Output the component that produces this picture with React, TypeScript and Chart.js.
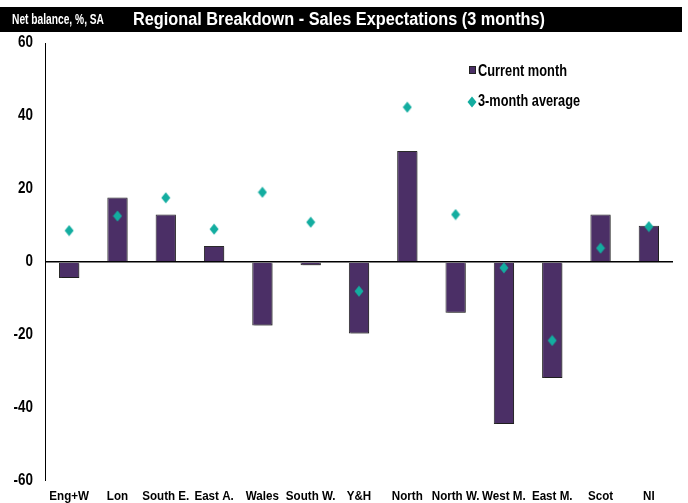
import React, { useEffect, useRef } from "react";
import { Chart, registerables } from "chart.js";

Chart.register(...registerables);

const categories = ["Eng+W", "Lon", "South E.", "East A.", "Wales", "South W.", "Y&H", "North", "North W.", "West M.", "East M.", "Scot", "NI"];
const currentMonth = [-4.4, 17.7, 13.0, 4.4, -17.4, -0.9, -19.6, 30.4, -13.9, -44.4, -31.8, 13.0, 9.9];
const threeMonthAvg = [8.6, 12.6, 17.6, 9.0, 19.1, 10.9, -8.0, 42.4, 13.0, -1.6, -21.5, 3.8, 9.7];
const yTicks = [-60, -40, -20, 0, 20, 40, 60];
const headerLeft = "Net balance, %, SA";
const headerTitle = "Regional Breakdown - Sales Expectations (3 months)";
const legendLabels = ["Current month", "3-month average"];

const FONT = '"Liberation Sans", Arial, sans-serif';
const BAR_COLOR = "#4B2F66";
const DIAMOND_COLOR = "#13ADA0";

function narrowText(ctx: any, text: string, x: number, y: number, size: number, sx: number, align: string, color: string) {
  ctx.save();
  ctx.translate(x, y);
  ctx.scale(sx, 1);
  ctx.font = `bold ${size}px ${FONT}`;
  ctx.fillStyle = color;
  ctx.textAlign = align;
  ctx.textBaseline = "middle";
  ctx.fillText(text, 0, 0);
  ctx.restore();
}

function fitText(ctx: any, text: string, x: number, y: number, size: number, width: number, color: string) {
  ctx.save();
  ctx.font = `bold ${size}px ${FONT}`;
  const w = ctx.measureText(text).width;
  ctx.restore();
  narrowText(ctx, text, x, y, size, width / w, "left", color);
}

function makeDiamond(): HTMLCanvasElement {
  const c = document.createElement("canvas");
  c.width = 10;
  c.height = 12;
  const g = c.getContext("2d")!;
  g.fillStyle = DIAMOND_COLOR;
  g.beginPath();
  g.moveTo(5, 0.5);
  g.lineTo(9.5, 6);
  g.lineTo(5, 11.5);
  g.lineTo(0.5, 6);
  g.closePath();
  g.fill();
  return c;
}

export default function App() {
  const ref = useRef<HTMLCanvasElement | null>(null);

  useEffect(() => {
    if (!ref.current) return;
    const diamond = makeDiamond();
    const decor = {
      id: "decor",
      beforeDraw(chart: any) {
        const ctx = chart.ctx;
        ctx.save();
        ctx.fillStyle = "#fff";
        ctx.fillRect(0, 0, chart.width, chart.height);
        ctx.fillStyle = "#000";
        ctx.fillRect(0, 7, 682, 25);
        ctx.restore();
        fitText(ctx, headerLeft, 12, 20, 15, 92, "#fff");
        fitText(ctx, headerTitle, 133, 20, 18, 412, "#fff");
      },
      beforeDatasetDraw(chart: any, args: any) {
        if (args.index === 1) {
          const ctx = chart.ctx;
          ctx.save();
          ctx.shadowColor = "rgba(0,0,0,0.28)";
          ctx.shadowOffsetX = 2;
          ctx.shadowOffsetY = 1;
          ctx.shadowBlur = 0;
        }
      },
      afterDatasetDraw(chart: any, args: any) {
        if (args.index === 1) chart.ctx.restore();
      },
      afterDraw(chart: any) {
        const ctx = chart.ctx;
        const xs = chart.scales.x;
        const ys = chart.scales.y;
        categories.forEach((c, i) => {
          narrowText(ctx, c, xs.getPixelForTick(i), 496, 13.5, 0.86, "center", "#000");
        });
        yTicks.forEach((v) => {
          narrowText(ctx, String(v), 33, ys.getPixelForValue(v), 16, 0.84, "right", "#000");
        });
        ctx.save();
        ctx.fillStyle = BAR_COLOR;
        ctx.strokeStyle = "#222";
        ctx.lineWidth = 1;
        ctx.fillRect(469, 66, 7, 8);
        ctx.strokeRect(469.5, 66.5, 6, 7);
        ctx.drawImage(diamond, 467, 96);
        ctx.restore();
        fitText(ctx, legendLabels[0], 478, 72, 16, 89, "#000");
        fitText(ctx, legendLabels[1], 478, 102, 16, 102, "#000");
      },
    };

    const chart = new Chart(ref.current, {
      type: "bar",
      data: {
        labels: categories,
        datasets: [
          {
            type: "line",
            label: legendLabels[1],
            data: threeMonthAvg,
            showLine: false,
            pointStyle: diamond,
            pointRadius: 5,
            order: 0,
          } as any,
          {
            type: "bar",
            label: legendLabels[0],
            data: currentMonth,
            backgroundColor: BAR_COLOR,
            borderColor: "#2a2a2a",
            borderWidth: 1,
            categoryPercentage: 1,
            barPercentage: 0.42,
            order: 1,
          },
        ],
      },
      options: {
        responsive: false,
        animation: false,
        devicePixelRatio: 1,
        layout: { padding: { left: 0, right: 15, top: 43, bottom: 0 } },
        plugins: { legend: { display: false }, tooltip: { enabled: false }, title: { display: false } },
        scales: {
          x: {
            grid: { display: false, drawTicks: false },
            border: { display: false },
            ticks: { display: false },
            afterFit: (s: any) => {
              s.height = 22;
            },
          },
          y: {
            min: -60,
            max: 60,
            afterBuildTicks: (s: any) => {
              s.ticks = yTicks.map((v) => ({ value: v }));
            },
            grid: {
              drawTicks: false,
              color: (c: any) => (c.tick && c.tick.value === 0 ? "#000" : "rgba(0,0,0,0)"),
              lineWidth: (c: any) => (c.tick && c.tick.value === 0 ? 1.5 : 0),
            },
            border: { display: true, color: "#000", width: 1 },
            ticks: { display: false },
            afterFit: (s: any) => {
              s.width = 45;
            },
          },
        },
      },
      plugins: [decor],
    } as any);
    return () => chart.destroy();
  }, []);

  return (
    <div style={{ position: "fixed", left: 0, top: 0, width: 688, height: 503, background: "#fff" }}>
      <canvas ref={ref} width={688} height={503} style={{ width: 688, height: 503, display: "block" }} />
    </div>
  );
}
